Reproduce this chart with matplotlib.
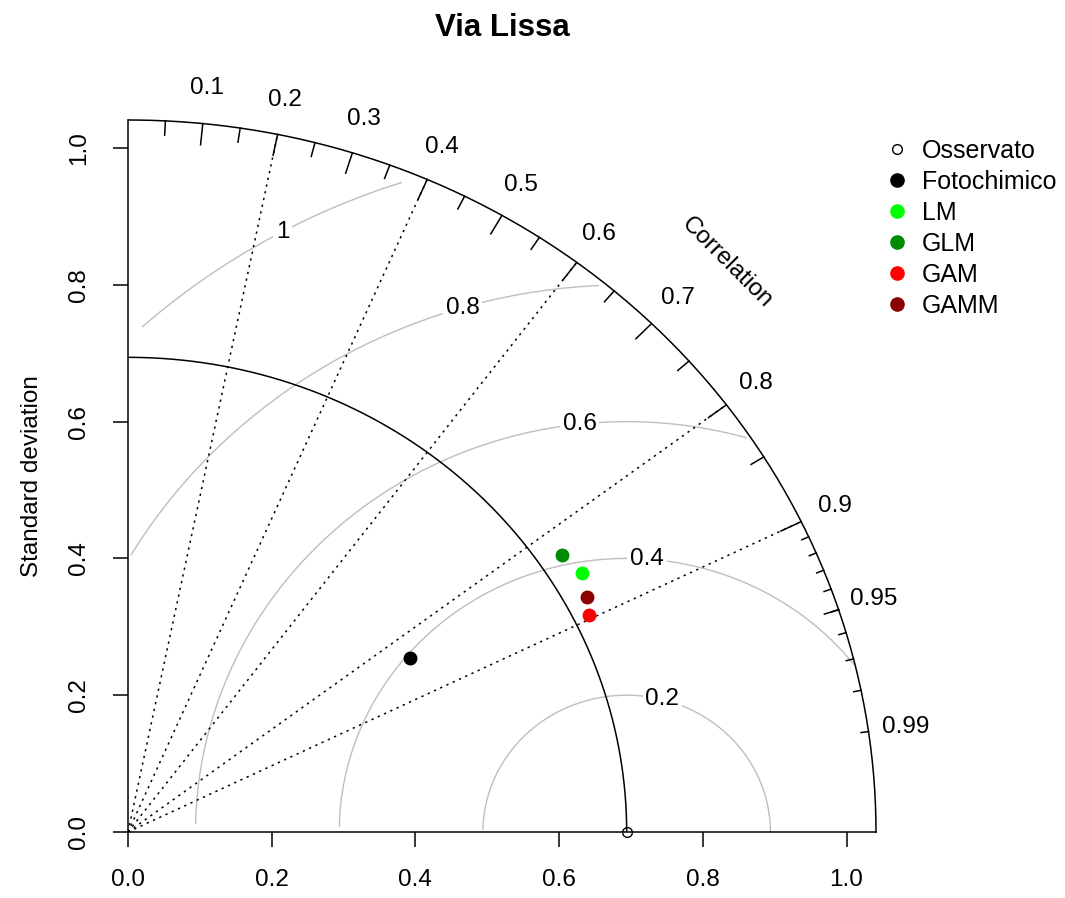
import numpy as np
import matplotlib
matplotlib.use("Agg")
import matplotlib.pyplot as plt
from matplotlib.lines import Line2D

plt.rcParams['font.family'] = ['Liberation Sans', 'DejaVu Sans']

# dati
title = "Via Lissa"
sd_obs = 0.694
models = ["Fotochimico", "LM", "GLM", "GAM", "GAMM"]
model_sd = [0.468, 0.737, 0.727, 0.716, 0.725]
model_cor = [0.840, 0.858, 0.830, 0.896, 0.881]
model_col = ["black", "#00FF00", "#008B00", "#FF0000", "#8B0000"]
gamma_levels = [0.2, 0.4, 0.6, 0.8, 1.0]
corr_lines = [0.2, 0.4, 0.6, 0.8, 0.9]
corr_labels = [0.1, 0.2, 0.3, 0.4, 0.5, 0.6, 0.7, 0.8, 0.9, 0.95, 0.99]
sd_ticks = [0.0, 0.2, 0.4, 0.6, 0.8, 1.0]

maxsd = 1.5 * sd_obs
fs = 17.5

fig = plt.figure(figsize=(10.65, 8.98), dpi=100)
ax = fig.add_axes([128 / 1065, 66 / 898, 748 / 1065, 712 / 898])
ax.set_xlim(0, maxsd)
ax.set_ylim(0, maxsd)

# curve RMS centrate (come plotrix)
t = np.arange(0, np.pi, 0.03)
labelpos = [44, 50, 56, 62, 69]
for gi, g in enumerate(gamma_levels):
    xc = np.cos(t) * g + sd_obs
    yc = np.sin(t) * g
    neg = np.where(xc < 0)[0]
    end = neg.min() if len(neg) else len(t)
    out = np.where(xc ** 2 + yc ** 2 > maxsd ** 2)[0]
    start = out.max() + 1 if len(out) else 0
    ax.plot(xc[start:end], yc[start:end], color="#BEBEBE", lw=1.0, zorder=1)
    lp = labelpos[gi]
    if xc[lp] > 0:
        ax.text(xc[lp], yc[lp], "%g" % g, fontsize=fs, ha="center", va="center",
                bbox=dict(facecolor="white", edgecolor="none", pad=2), zorder=2)

# linee di correlazione
for c in corr_lines:
    ax.plot([0, maxsd * c], [0, maxsd * np.sqrt(1 - c ** 2)], color="black",
            lw=1.1, linestyle=(0, (1.5, 3)), zorder=3)

# arco esterno
a = np.arange(0, np.pi / 2, 0.01)
ax.plot(np.cos(a) * maxsd, np.sin(a) * maxsd, color="black", lw=1.1, clip_on=False, zorder=3)

big = np.arccos(np.arange(1, 10) / 10)
med = np.arccos(np.arange(0.05, 1.0, 0.1))
sml = np.arccos(np.arange(91, 100) / 100)
for angs, f in [(big, 0.97), (med, 0.98), (sml, 0.99)]:
    for an in angs:
        ax.plot([np.cos(an) * maxsd, np.cos(an) * f * maxsd],
                [np.sin(an) * maxsd, np.sin(an) * f * maxsd],
                color="black", lw=1.1, clip_on=False, zorder=3)

for c in corr_labels:
    an = np.arccos(c)
    ax.text(np.cos(an) * 1.05 * maxsd, np.sin(an) * 1.05 * maxsd, "%g" % c,
            fontsize=fs, ha="center", va="center")
ax.text(0.8 * maxsd, 0.8 * maxsd, "Correlation", rotation=-45, fontsize=fs,
        ha="center", va="center", rotation_mode="anchor")

# arco della deviazione standard osservata
ax.plot(np.cos(a) * sd_obs, np.sin(a) * sd_obs, color="black", lw=1.1, zorder=3)
ax.plot([sd_obs], [0], marker="o", markersize=7, markerfacecolor="none",
        markeredgecolor="black", markeredgewidth=1.0, clip_on=False, zorder=5)

# modelli
for name, s, r, col in zip(models, model_sd, model_cor, model_col):
    ax.plot([s * r], [s * np.sqrt(1 - r ** 2)], marker="o", markersize=9,
            color=col, linestyle="none", zorder=5)

# assi
for side in ["top", "right"]:
    ax.spines[side].set_visible(False)
for side in ["left", "bottom"]:
    ax.spines[side].set_linewidth(1.1)
ax.set_xticks(sd_ticks)
ax.set_yticks(sd_ticks)
ax.set_xticklabels(["%.1f" % v for v in sd_ticks])
ax.set_yticklabels(["%.1f" % v for v in sd_ticks], rotation=90, va="center")
ax.tick_params(direction="out", length=11, width=1.1, labelsize=fs, pad=16)
ax.set_ylabel("Standard deviation", fontsize=fs, labelpad=18)
fig.suptitle(title, fontsize=22.5, fontweight="bold", x=502 / 1065, y=1 - 28 / 898, va="center")

handles = [Line2D([], [], marker="o", linestyle="none", markersize=7,
                  markerfacecolor="none", markeredgecolor="black")]
for col in model_col:
    handles.append(Line2D([], [], marker="o", linestyle="none", markersize=9.5, color=col))
ax.legend(handles, ["Osservato"] + models, loc="upper left",
          bbox_to_anchor=(884 / 1065, 1 - 139 / 898), bbox_transform=fig.transFigure,
          frameon=False, fontsize=18, handlelength=1.0, handletextpad=0.5,
          labelspacing=0.28, borderpad=0, borderaxespad=0)

fig.savefig("out.png", dpi=100)
